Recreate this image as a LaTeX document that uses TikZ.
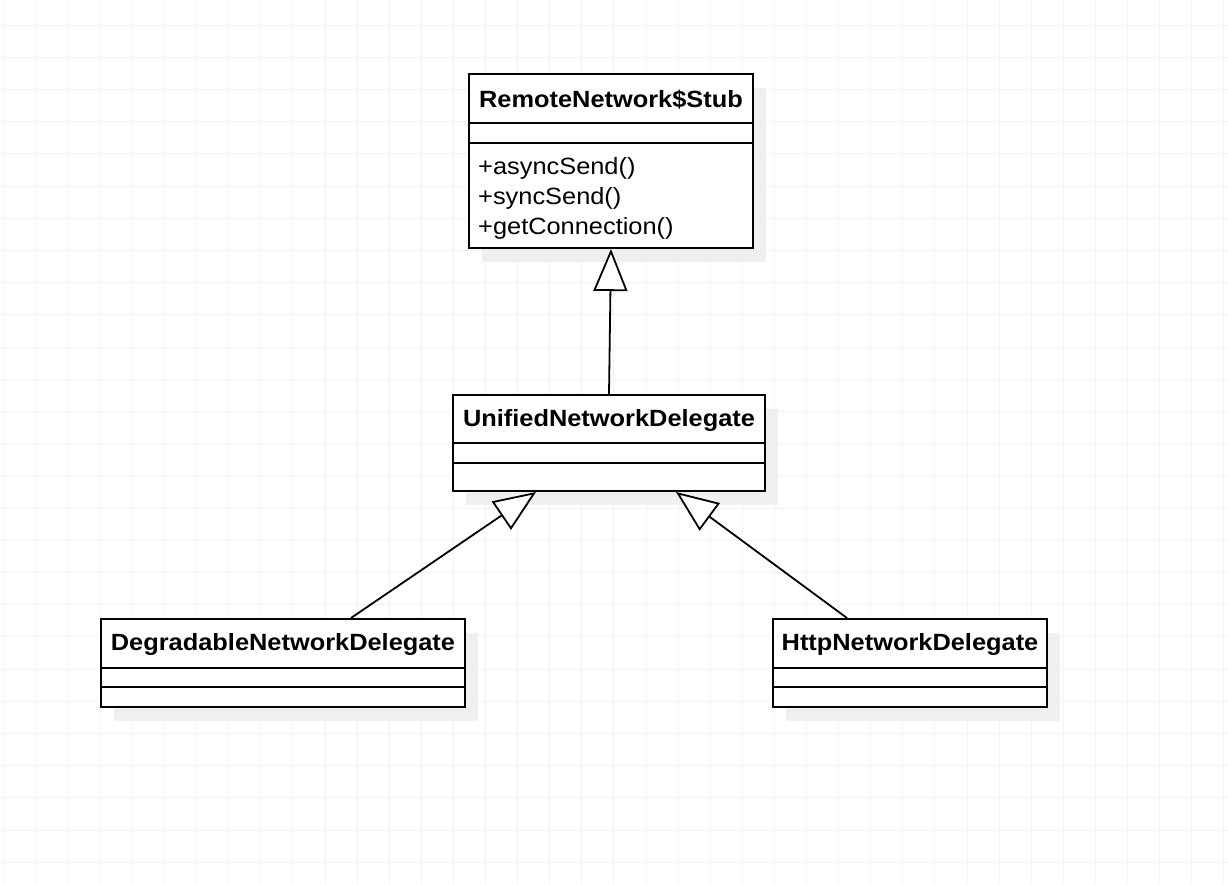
\documentclass[tikz,border=0pt]{standalone}
\usepackage{fontspec}
\setmainfont{Liberation Sans}[FakeStretch=1.08]
\usetikzlibrary{arrows.meta,shadows}
\definecolor{gridc}{HTML}{F3F3F3}
\definecolor{shadowc}{HTML}{EFEFEF}
\tikzset{
  cls/.style={draw, line width=2pt, fill=white, anchor=north west, inner sep=0pt,
    drop shadow={shadow xshift=13pt, shadow yshift=-14pt, fill=shadowc, opacity=1}},
  ttl/.style={font=\bfseries\fontsize{23.5}{30}\selectfont, inner sep=0pt},
  mth/.style={font=\fontsize{23.5}{30}\selectfont, inner sep=0pt, align=left, anchor=west},
  divider/.style={line width=2pt},
  inh/.style={line width=1.8pt, line join=miter, -{Triangle[open, length=42pt, width=34pt, fill=white]}},
  gridline/.style={draw=gridc, line width=1pt}
}
\begin{document}
\begin{tikzpicture}[x=1pt,y=-1pt]
\useasboundingbox (0,0) rectangle (1228,884);
\fill[white] (0,0) rectangle (1228,884);
\foreach \i in {0,...,38} \draw[gridline] ({4+32.1*\i},0) -- ++(0,884);
\foreach \j in {0,...,27} \draw[gridline] (0,{25+32.2*\j}) -- ++(1228,0);

% RemoteNetwork$Stub
\node[cls, minimum width=284pt, minimum height=174pt] (stub) at (468,73) {};
\draw[divider] ([yshift=-50pt]stub.north west) -- ([yshift=-50pt]stub.north east);
\draw[divider] ([yshift=-70pt]stub.north west) -- ([yshift=-70pt]stub.north east);
\node[ttl] (stubname) at ([yshift=-27pt]stub.north) {RemoteNetwork\$Stub};
\node[mth] (stubops) at (478,198) {+asyncSend()\\+syncSend()\\+getConnection()};

% UnifiedNetworkDelegate
\node[cls, minimum width=312pt, minimum height=96pt] (unified) at (452,394) {};
\draw[divider] ([yshift=-49pt]unified.north west) -- ([yshift=-49pt]unified.north east);
\draw[divider] ([yshift=-69pt]unified.north west) -- ([yshift=-69pt]unified.north east);
\node[ttl] (unifiedname) at ([yshift=-26pt]unified.north) {UnifiedNetworkDelegate};

% DegradableNetworkDelegate
\node[cls, minimum width=364pt, minimum height=88pt] (degr) at (100,618) {};
\draw[divider] ([yshift=-50pt]degr.north west) -- ([yshift=-50pt]degr.north east);
\draw[divider] ([yshift=-69pt]degr.north west) -- ([yshift=-69pt]degr.north east);
\node[ttl] (degrname) at ([yshift=-26pt]degr.north) {DegradableNetworkDelegate};

% HttpNetworkDelegate
\node[cls, minimum width=274pt, minimum height=88pt] (http) at (772,618) {};
\draw[divider] ([yshift=-50pt]http.north west) -- ([yshift=-50pt]http.north east);
\draw[divider] ([yshift=-69pt]http.north west) -- ([yshift=-69pt]http.north east);
\node[ttl] (httpname) at ([yshift=-26pt]http.north) {HttpNetworkDelegate};

% inheritance
\draw[inh] (unified.north) -- (stub.south);
\draw[inh] ([xshift=68pt]degr.north) -- ([xshift=-73pt]unified.south);
\draw[inh] ([xshift=-63pt]http.north) -- ([xshift=67pt]unified.south);
\end{tikzpicture}
\end{document}
